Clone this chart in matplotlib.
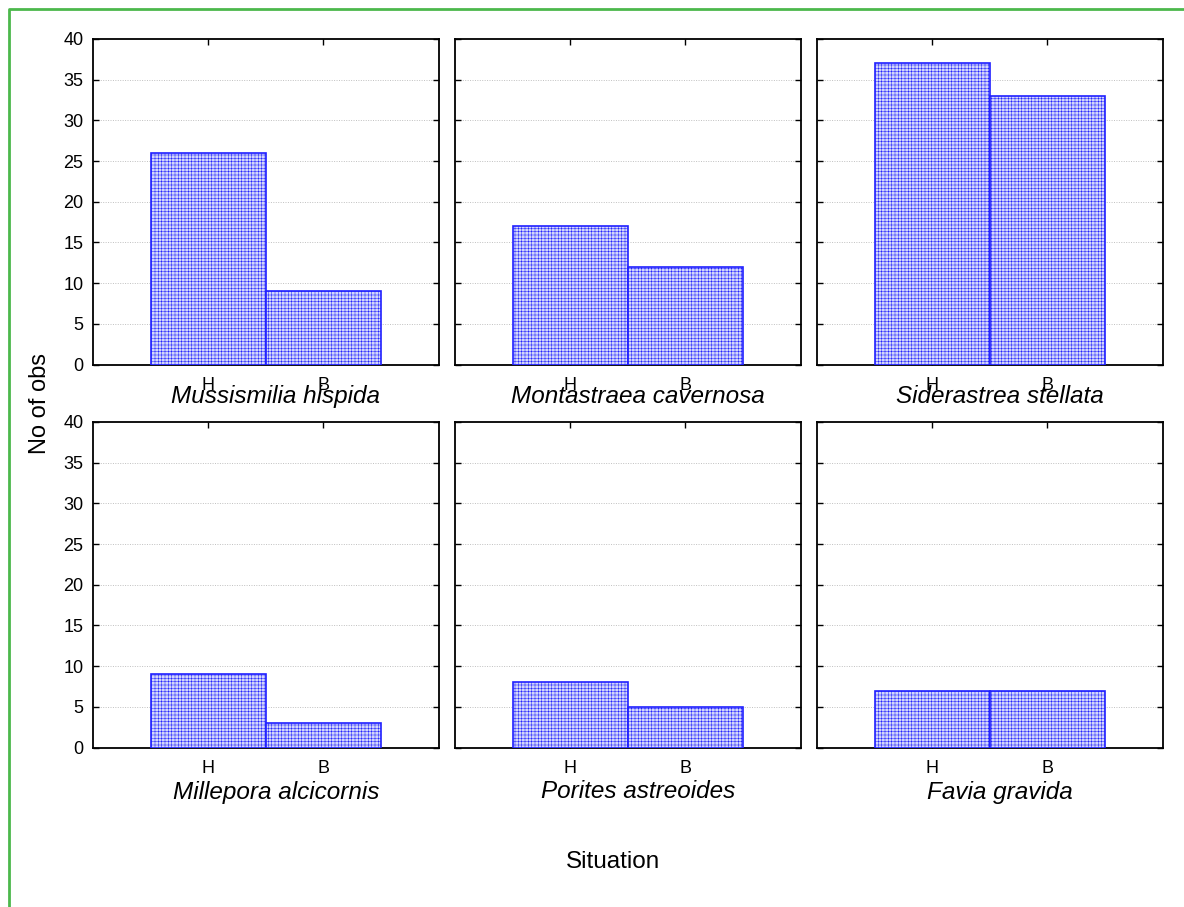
import matplotlib.pyplot as plt
from matplotlib.lines import Line2D

plt.rcParams['font.family'] = ['Liberation Sans', 'DejaVu Sans']
plt.rcParams['hatch.linewidth'] = 0.35

species = ['Mussismilia hispida', 'Montastraea cavernosa', 'Siderastrea stellata',
           'Millepora alcicornis', 'Porites astreoides', 'Favia gravida']
situations = ['H', 'B']
h_counts = [26, 17, 37, 9, 8, 7]
b_counts = [9, 12, 33, 3, 5, 7]

W, H = 1184, 907
fig = plt.figure(figsize=(W / 100, H / 100), dpi=100)

col_left = [93, 455, 817]
row_top = [39, 422]
ax_w, ax_h = 345.5, 325.5
name_y = [396, 792]

for i in range(6):
    r, c = divmod(i, 3)
    ax = fig.add_axes([col_left[c] / W, 1 - (row_top[r] + ax_h) / H, ax_w / W, ax_h / H])
    vals = [h_counts[i], b_counts[i]]
    ax.bar(range(2), vals, width=1.0, color='#d2d5fb', edgecolor='#2020ff',
           linewidth=1.2, hatch='+++++', zorder=3)
    ax.set_xlim(-1, 2)
    ax.set_ylim(0, 40)
    ax.set_yticks(range(0, 41, 5))
    ax.set_xticks(range(2))
    ax.set_xticklabels(situations)
    for y in range(5, 40, 5):
        ax.axhline(y, color='#c0c0c0', linestyle=(0, (1, 1.5)), linewidth=0.7, zorder=1)
    ax.tick_params(direction='in', top=True, right=True, length=4, width=1,
                   labelsize=13, pad=7)
    ax.tick_params(axis='x', pad=9)
    if c != 0:
        ax.set_yticklabels([])
    for s in ax.spines.values():
        s.set_linewidth(1.3)
    fig.text((col_left[c] + ax_w / 2 + 10) / W, 1 - name_y[r] / H, species[i],
             fontsize=17.5, style='italic', ha='center', va='center')

fig.text(40 / W, 1 - 403 / H, 'No of obs', fontsize=17, rotation=90,
         ha='center', va='center')
fig.text(613 / W, 1 - 862 / H, 'Situation', fontsize=17.5, ha='center', va='center')

# green frame (left and top only)
fig.add_artist(Line2D([8.7 / W, 8.7 / W, 1], [0, 1 - 9.3 / H, 1 - 9.3 / H],
                      transform=fig.transFigure, color='#4cb84c', linewidth=2))

fig.savefig('out.png', dpi=100)
